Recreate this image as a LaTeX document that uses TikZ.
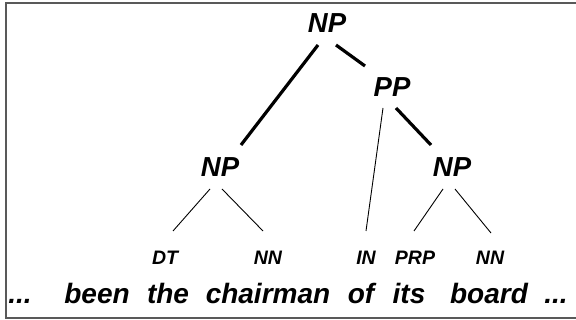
\documentclass[tikz,border=0pt]{standalone}
\usepackage{fontspec}
\setmainfont{Liberation Sans}
\begin{document}
\begin{tikzpicture}[x=1pt,y=-1pt,
  phrase/.style={font=\fontsize{27.5}{27.5}\selectfont\bfseries\itshape, inner sep=0pt},
  tag/.style={font=\fontsize{19.5}{19.5}\selectfont\bfseries\itshape, inner sep=0pt},
  word/.style={font=\fontsize{28}{28}\selectfont\bfseries\itshape, inner sep=0pt, anchor=base},
  thick edge/.style={line width=3.2pt},
  thin edge/.style={line width=0.9pt}]
\useasboundingbox (0,0) rectangle (576,320);
\draw[line width=1.5pt, black!65] (6,3) rectangle (582,318);
% phrase nodes
\node[phrase] (np0) at (327,23) {NP};
\node[phrase] (pp) at (392,87) {PP};
\node[phrase] (np1) at (220,167) {NP};
\node[phrase] (np2) at (452,167) {NP};
% tags
\node[tag] (dt) at (165,258) {DT};
\node[tag] (nn1) at (268,258) {NN};
\node[tag] (in) at (366,258) {IN};
\node[tag] (prp) at (415,258) {PRP};
\node[tag] (nn2) at (490,258) {NN};
% words
\node[word] (w1) at (20,304) {...};
\node[word] (w2) at (97,304) {been};
\node[word] (w3) at (168,304) {the};
\node[word] (w4) at (268,304) {chairman};
\node[word] (w5) at (361,304) {of};
\node[word] (w6) at (409,304) {its};
\node[word] (w7) at (489,304) {board};
\node[word] (w8) at (556,304) {...};
% edges
\draw[thick edge] ([xshift=-9pt,yshift=-22pt]np0.center) -- ([xshift=21pt,yshift=22pt]np1.center);
\draw[thick edge] ([xshift=9pt,yshift=-22pt]np0.center) -- ([xshift=-27pt,yshift=21pt]pp.center);
\draw[thin edge] ([xshift=-9pt,yshift=-21pt]pp.center) -- ([yshift=27pt]in.center);
\draw[thick edge] ([xshift=4pt,yshift=-21pt]pp.center) -- ([xshift=-21pt,yshift=22pt]np2.center);
\draw[thin edge] ([xshift=-10pt,yshift=-22pt]np1.center) -- ([xshift=8pt,yshift=27pt]dt.center);
\draw[thin edge] ([xshift=2pt,yshift=-22pt]np1.center) -- ([xshift=-5pt,yshift=27pt]nn1.center);
\draw[thin edge] ([xshift=-9pt,yshift=-22pt]np2.center) -- ([xshift=-1pt,yshift=27pt]prp.center);
\draw[thin edge] ([xshift=3pt,yshift=-22pt]np2.center) -- ([xshift=1pt,yshift=25pt]nn2.center);
\end{tikzpicture}
\end{document}
